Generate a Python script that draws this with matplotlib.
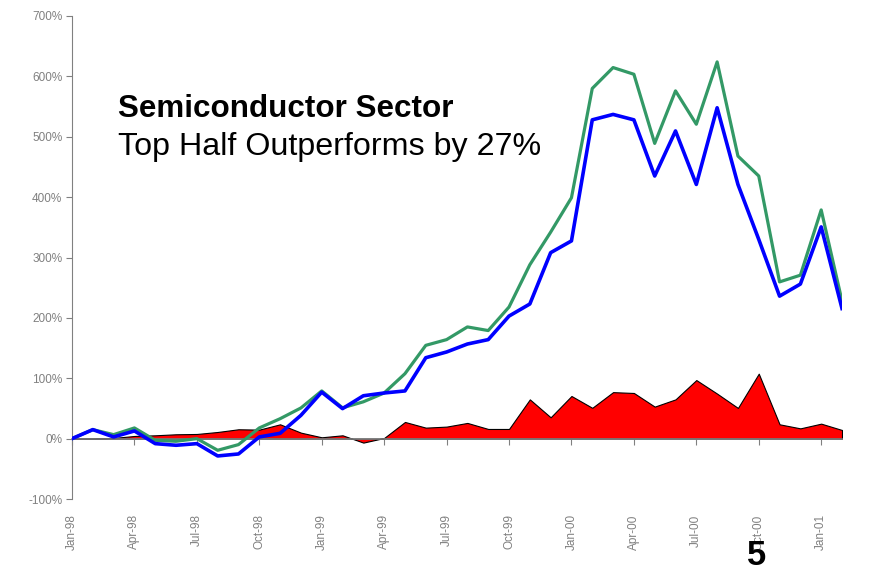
import matplotlib
matplotlib.use("Agg")
import matplotlib.pyplot as plt
import numpy as np

plt.rcParams['font.family'] = ['Liberation Sans', 'DejaVu Sans']

months = ['Jan-98', 'Feb-98', 'Mar-98', 'Apr-98', 'May-98', 'Jun-98', 'Jul-98', 'Aug-98', 'Sep-98',
          'Oct-98', 'Nov-98', 'Dec-98', 'Jan-99', 'Feb-99', 'Mar-99', 'Apr-99', 'May-99', 'Jun-99',
          'Jul-99', 'Aug-99', 'Sep-99', 'Oct-99', 'Nov-99', 'Dec-99', 'Jan-00', 'Feb-00', 'Mar-00',
          'Apr-00', 'May-00', 'Jun-00', 'Jul-00', 'Aug-00', 'Sep-00', 'Oct-00', 'Nov-00', 'Dec-00',
          'Jan-01', 'Feb-01']

top_half = [0, 14.9, 6.6, 17.7, -2.8, -4.4, 0, -19.3, -9.9, 17.7, 33, 50.8, 79, 51, 61, 75.6,
            107.6, 154.5, 164, 185, 179, 218, 288, 342, 399, 580, 614.6, 603.5, 489, 576, 520.7,
            624, 468, 435, 259.6, 270.7, 378.8, 228]

bottom_half = [0, 14.9, 2.8, 12.7, -8.3, -11, -8.3, -28.7, -25.4, 2.8, 8.8, 38.6, 77, 49.7, 71,
               75.6, 79, 134, 143.5, 156.7, 164, 203, 223, 308, 327.5, 528, 537, 528, 435, 509.6,
               421, 548, 421, 330, 236, 256, 350.7, 215.5]

spread = [0, 0, 1.1, 4.4, 5.5, 7.2, 7.7, 11, 15.5, 14.9, 23.7, 9.9, 2.2, 5.5, -6.6, 1.1, 27.6,
          18.2, 19.9, 26, 16, 16, 65, 35.3, 70.6, 51, 77, 75.6, 53, 65, 97, 74.5, 50.8, 107.6,
          23.7, 17, 24.8, 14.3]

tick_labels = ['Jan-98', 'Apr-98', 'Jul-98', 'Oct-98', 'Jan-99', 'Apr-99', 'Jul-99', 'Oct-99',
               'Jan-00', 'Apr-00', 'Jul-00', 'Oct-00', 'Jan-01']
y_ticks = [-100, 0, 100, 200, 300, 400, 500, 600, 700]

x = np.arange(len(months))
tick_pos = [months.index(t) for t in tick_labels]

fig = plt.figure(figsize=(8.74, 5.71), dpi=100)
ax = fig.add_axes([72/874, 1 - 499/571, (842 - 72)/874, (499 - 16)/571])

gray = '#808080'
ax.fill_between(x, spread, 0, facecolor='#FF0000', edgecolor='black', linewidth=0.8, zorder=2)
ax.plot(x, top_half, color='#339966', linewidth=2.3, zorder=4)
ax.plot(x, bottom_half, color='#0000FF', linewidth=2.6, zorder=5)

ax.set_xlim(0, len(months) - 1)
ax.set_ylim(-100, 700)
ax.set_yticks(y_ticks)
ax.set_yticklabels([f'{v}%' for v in y_ticks], color=gray, fontsize=8.5)

for s in ['top', 'right']:
    ax.spines[s].set_visible(False)
ax.spines['left'].set_color(gray)
ax.spines['bottom'].set_position(('data', 0))
ax.spines['bottom'].set_color(gray)
ax.spines['bottom'].set_linewidth(1.2)
ax.spines['bottom'].set_zorder(3)
ax.tick_params(axis='y', direction='out', length=4, color=gray, pad=3)
ax.set_xticks(tick_pos)
ax.tick_params(axis='x', direction='out', length=4, color=gray, labelbottom=False)

sec = ax.secondary_xaxis('bottom')
sec.set_xticks(tick_pos)
sec.set_xticklabels(tick_labels, rotation=90, color=gray, fontsize=8.5)
sec.tick_params(axis='x', length=0, pad=11)
sec.spines['bottom'].set_visible(False)

fig.text(118/874, 1 - 117/571, 'Semiconductor Sector', fontsize=22.6, fontweight='bold',
         va='baseline', ha='left')
fig.text(118/874, 1 - 155/571, 'Top Half Outperforms by 27%', fontsize=23.2,
         va='baseline', ha='left')
fig.text(757/874, 1 - 565/571, '5', fontsize=25, fontweight='bold', va='baseline', ha='center')

fig.savefig('out.png', dpi=100)
